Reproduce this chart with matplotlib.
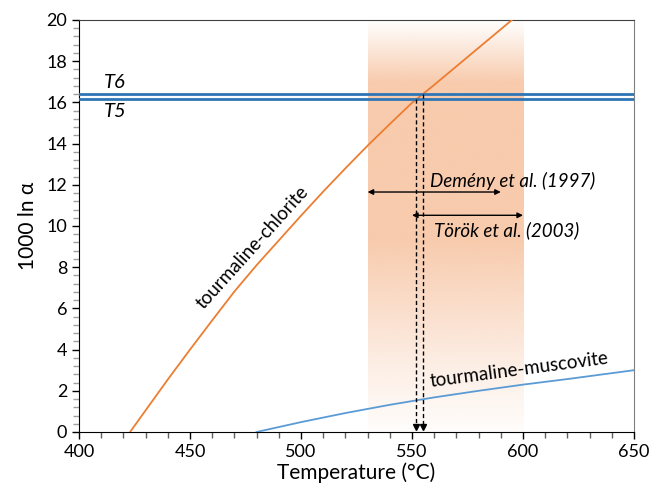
import numpy as np
import matplotlib
matplotlib.use("Agg")
import matplotlib.pyplot as plt
from matplotlib.ticker import MultipleLocator

plt.rcParams['font.family'] = ['Lato', 'DejaVu Sans']

# tourmaline-chlorite curve
chl_T = [423, 430, 440, 450, 460, 470, 480, 490, 500, 510, 520, 530, 540, 550, 560, 570, 580, 590, 595]
chl_v = [0.0, 1.05, 2.55, 4.0, 5.42, 6.82, 8.1, 9.3, 10.5, 11.67, 12.8, 13.9, 14.95, 15.98, 16.85, 17.75, 18.65, 19.55, 20.0]
# tourmaline-muscovite curve
mus_T = [480, 500, 520, 540, 560, 580, 600, 620, 650]
mus_v = [0.0, 0.48, 0.92, 1.32, 1.68, 2.0, 2.3, 2.57, 3.0]
# isotope values of T6 and T5
t6_value = 16.4
t5_value = 16.15
# temperatures at intersections
t5_temp = 552
t6_temp = 555
# literature temperature ranges
demeny_range = [530, 590]
torok_range = [550, 600]
shade_range = [530, 600]

fig = plt.figure(figsize=(6.51, 4.97), dpi=100)
ax = fig.add_axes([79/651, 65/497, 555/651, 412/497])
ax.set_xlim(400, 650)
ax.set_ylim(0, 20)

# shaded gradient band
peach = np.array([248, 203, 173]) / 255.0
ys = np.linspace(0, 20, 400)
alpha = np.interp(ys, [0, 3, 9.3, 17.0, 20], [0.05, 0.3, 1.0, 1.0, 0.0])
img = np.zeros((len(ys), 1, 4))
img[:, 0, :3] = peach
img[:, 0, 3] = alpha
ax.imshow(img, extent=[shade_range[0], shade_range[1], 0, 20], origin='lower',
          aspect='auto', interpolation='bilinear', zorder=0)

ax.plot(chl_T, chl_v, color='#ED7D31', lw=1.3, zorder=3)
ax.plot(mus_T, mus_v, color='#5B9BD5', lw=1.3, zorder=3)

ax.axhline(t6_value, color='#2E75B6', lw=2.0, zorder=4)
ax.axhline(t5_value, color='#2E75B6', lw=2.0, zorder=4)

ax.text(411, t6_value + 0.15, 'T6', fontsize=14.5, style='italic', va='bottom', ha='left')
ax.text(411, t5_value - 0.2, 'T5', fontsize=14.5, style='italic', va='top', ha='left')

# dashed drop lines
for tt, vv in [(t5_temp, t5_value), (t6_temp, t6_value)]:
    ax.plot([tt, tt], [vv, 0.3], color='black', lw=1.0, ls=(0, (3, 2)), zorder=5)
    ax.plot([tt], [0.22], marker='v', color='black', markersize=5, clip_on=False, zorder=6)

# range arrows
ax.annotate('', xy=(demeny_range[0], 11.65), xytext=(demeny_range[1], 11.65),
            arrowprops=dict(arrowstyle='<|-|>', color='black', lw=1.0, mutation_scale=8,
                            shrinkA=0, shrinkB=0))
ax.annotate('', xy=(torok_range[0], 10.52), xytext=(torok_range[1], 10.52),
            arrowprops=dict(arrowstyle='<|-|>', color='black', lw=1.0, mutation_scale=8,
                            shrinkA=0, shrinkB=0))
ax.text(595.5, 12.2, 'Demény et al. (1997)', fontsize=13.5, style='italic', ha='center', va='center')
ax.text(592.8, 9.8, 'Török et al. (2003)', fontsize=13.5, style='italic', ha='center', va='center')

ax.text(478, 8.95, 'tourmaline-chlorite', fontsize=13.5, rotation=48, ha='center', va='center',
        rotation_mode='anchor')
ax.text(598.2, 3.0, 'tourmaline-muscovite', fontsize=13.5, rotation=7.5, ha='center', va='center',
        rotation_mode='anchor')

ax.xaxis.set_major_locator(MultipleLocator(50))
ax.xaxis.set_minor_locator(MultipleLocator(10))
ax.yaxis.set_major_locator(MultipleLocator(2))
ax.yaxis.set_minor_locator(MultipleLocator(0.4))
ax.tick_params(which='major', direction='out', length=5, width=1, labelsize=13, color='black')
ax.tick_params(which='minor', direction='out', length=4, width=1, color='#A0A0A0')
ax.tick_params(axis='x', which='minor', color='#606060')

for s in ['left', 'bottom']:
    ax.spines[s].set_color('black')
ax.spines['top'].set_color('#404040')
ax.spines['right'].set_color('#808080')

ax.set_xlabel('Temperature (°C)', fontsize=15, labelpad=2)
ax.set_ylabel('1000 ln α', fontsize=15, labelpad=6)

fig.savefig('out.png', dpi=100)
